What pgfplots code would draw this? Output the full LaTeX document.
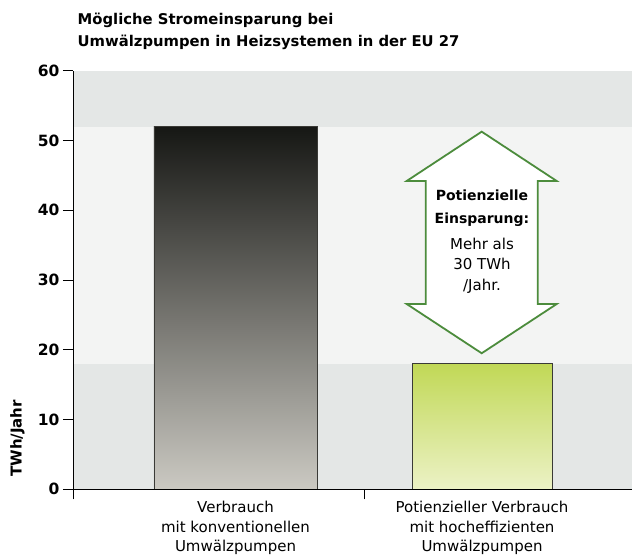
\documentclass[border=0pt]{standalone}
\usepackage{fontspec}
\setmainfont{DejaVu Sans}
\usepackage{pgfplots}
\pgfplotsset{compat=1.18}
\definecolor{bandA}{RGB}{228,231,230}
\definecolor{bandB}{RGB}{243,244,243}
\definecolor{arrowgreen}{RGB}{76,140,60}
\definecolor{barline}{RGB}{58,58,54}
\definecolor{barOneTop}{RGB}{22,23,20}
\definecolor{barOneBot}{RGB}{203,201,194}
\definecolor{barTwoTop}{RGB}{193,216,86}
\definecolor{barTwoBot}{RGB}{236,242,198}
\begin{document}
\begin{tikzpicture}
\begin{axis}[
  at={(0,0)}, anchor=south west,
  scale only axis, width=559pt, height=418.6pt,
  xmin=73, xmax=632, ymin=0, ymax=60,
  axis x line*=bottom, axis y line*=left,
  axis line style={line width=0.8pt, black},
  tick align=outside,
  major tick length=10pt,
  ytick={0,10,20,30,40,50,60},
  ytick style={line width=0.8pt, black},
  yticklabel style={font=\fontsize{15.5}{15.5}\selectfont\bfseries},
  /pgf/number format/assume math mode=true,
  xtick={235.5,482},
  xticklabels={{Verbrauch\\mit konventionellen\\Umwälzpumpen},{Potienzieller Verbrauch\\mit hocheffizienten\\Umwälzpumpen}},
  xticklabel style={align=center, font=\fontsize{15}{19.6}\selectfont, anchor=north, yshift=1.5pt},
  xtick style={draw=none},
  extra x ticks={73,364},
  extra x tick labels={,},
  extra x tick style={xtick style={draw=black, line width=0.8pt}},
  clip=false,
  axis on top,
]
% background bands
\addplot[draw=none, fill=bandA] coordinates {(73,0) (632,0) (632,18) (73,18)} --cycle;
\addplot[draw=none, fill=bandB] coordinates {(73,18) (632,18) (632,52) (73,52)} --cycle;
\addplot[draw=none, fill=bandA] coordinates {(73,52) (632,52) (632,60) (73,60)} --cycle;
% bars
\addplot[draw=barline, line width=0.8pt, top color=barOneTop, bottom color=barOneBot]
  coordinates {(154,0) (154,52) (317,52) (317,0)} --cycle;
\addplot[draw=barline, line width=0.8pt, top color=barTwoTop, bottom color=barTwoBot]
  coordinates {(412,0) (412,18) (552.5,18) (552.5,0)} --cycle;
% double arrow
\addplot[draw=arrowgreen, line width=1.8pt, fill=white, line join=miter]
  coordinates {(481.7,51.26) (556.7,44.19) (537.7,44.19) (537.7,26.56) (556.7,26.56)
               (481.7,19.5) (406.7,26.56) (425.7,26.56) (425.7,44.19) (406.7,44.19)} --cycle;
\node[align=center, font=\fontsize{14}{22.3}\selectfont\bfseries] at (axis cs:482,40.3) {Potienzielle\\Einsparung:};
\node[align=center, font=\fontsize{15}{20.5}\selectfont] at (axis cs:482,32.1) {Mehr als\\30 TWh\\/Jahr.};
\end{axis}
\node[anchor=base west, font=\fontsize{14.8}{14.8}\selectfont\bfseries] at (1.2pt,464.3pt) {Mögliche Stromeinsparung bei};
\node[anchor=base west, font=\fontsize{14.8}{14.8}\selectfont\bfseries] at (1.2pt,442.3pt) {Umwälzpumpen in Heizsystemen in der EU 27};
\node[rotate=90, anchor=base west, font=\fontsize{15}{15}\selectfont\bfseries] at (-51.3pt,9pt) {TWh/Jahr};
\pgfresetboundingbox
\path[use as bounding box] (-73pt,-67.7pt) rectangle (559pt,489.3pt);
\end{tikzpicture}
\end{document}
